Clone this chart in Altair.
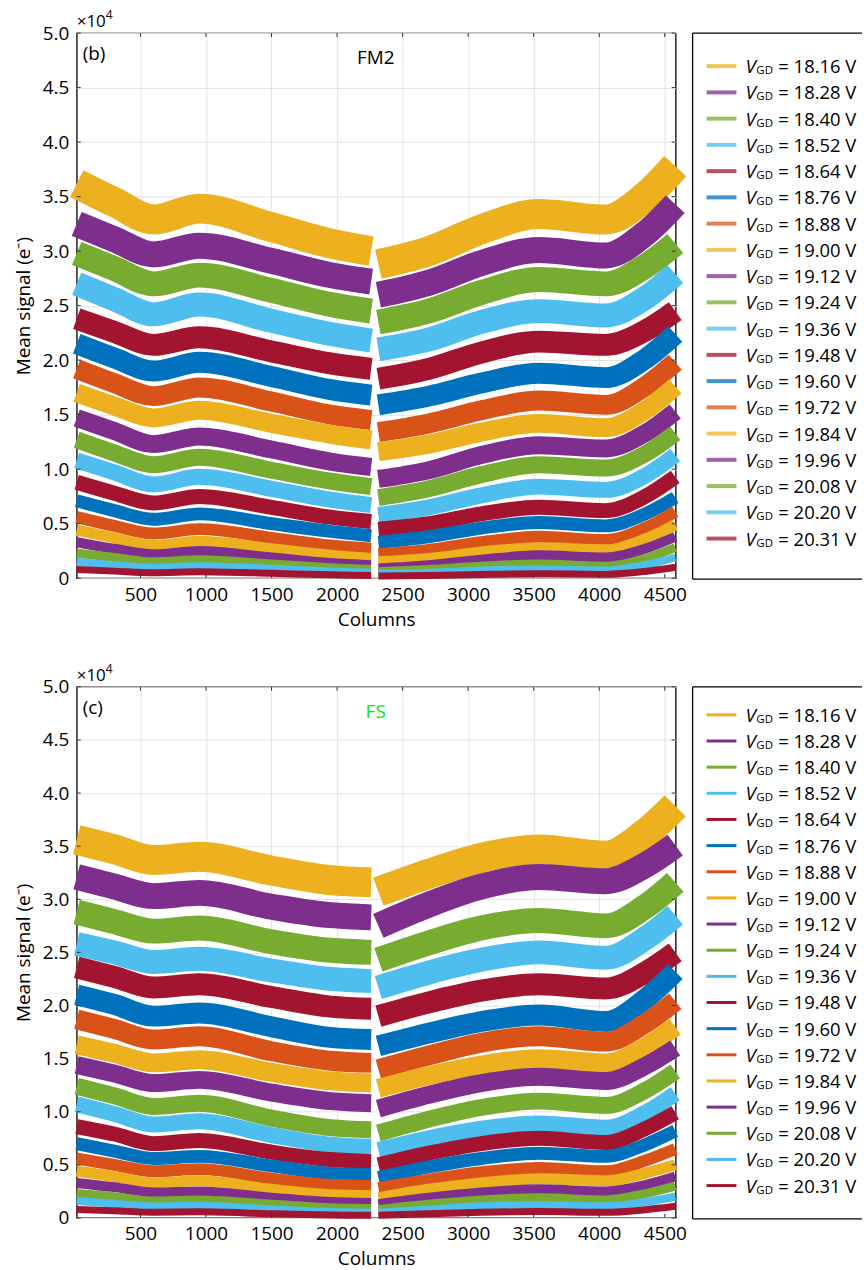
import altair as alt
import pandas as pd

# ---------------- data (signal in units of 10^4 e-) ----------------
vgd_values = ["18.16", "18.28", "18.40", "18.52", "18.64", "18.76", "18.88",
              "19.00", "19.12", "19.24", "19.36", "19.48", "19.60", "19.72",
              "19.84", "19.96", "20.08", "20.20", "20.31"]

x_ticks = [500, 1000, 1500, 2000, 2500, 3000, 3500, 4000, 4500]
y_ticks = [0, 0.5, 1.0, 1.5, 2.0, 2.5, 3.0, 3.5, 4.0, 4.5, 5.0]

# panel (b) FM2  (columns; gap between 2260 and 2315)
fm2_columns = [14, 300, 600, 950, 1500, 1950, 2260, 2315, 2700, 3100, 3540, 4050, 4350, 4580]
fm2_1816 = [3.62, 3.45, 3.29, 3.39, 3.22, 3.07, 3.00, 2.88, 3.00, 3.20, 3.34, 3.29, 3.50, 3.78]
fm2_1828 = [3.25, 3.11, 2.97, 3.05, 2.91, 2.78, 2.72, 2.60, 2.71, 2.89, 3.01, 2.96, 3.16, 3.43]
fm2_1840 = [2.98, 2.84, 2.70, 2.78, 2.64, 2.51, 2.45, 2.35, 2.45, 2.62, 2.74, 2.70, 2.86, 3.07]
fm2_1852 = [2.70, 2.56, 2.42, 2.51, 2.36, 2.24, 2.18, 2.10, 2.19, 2.35, 2.45, 2.41, 2.57, 2.79]
fm2_1864 = [2.38, 2.26, 2.14, 2.21, 2.08, 1.97, 1.92, 1.83, 1.92, 2.07, 2.17, 2.14, 2.27, 2.45]
fm2_1876 = [2.15, 2.02, 1.90, 1.98, 1.85, 1.73, 1.68, 1.59, 1.67, 1.79, 1.88, 1.84, 2.01, 2.24]
fm2_1888 = [1.92, 1.79, 1.67, 1.75, 1.62, 1.50, 1.45, 1.34, 1.42, 1.54, 1.63, 1.59, 1.76, 1.98]
fm2_1900 = [1.70, 1.58, 1.47, 1.54, 1.42, 1.32, 1.27, 1.16, 1.23, 1.34, 1.42, 1.38, 1.54, 1.76]
fm2_1912 = [1.47, 1.35, 1.23, 1.30, 1.18, 1.07, 1.02, 0.91, 0.99, 1.13, 1.22, 1.19, 1.33, 1.53]
fm2_1924 = [1.27, 1.15, 1.04, 1.11, 0.99, 0.89, 0.84, 0.74, 0.82, 0.95, 1.04, 1.01, 1.14, 1.33]
fm2_1936 = [1.08, 0.97, 0.86, 0.93, 0.82, 0.72, 0.67, 0.58, 0.65, 0.76, 0.84, 0.81, 0.94, 1.13]
fm2_1948 = [0.88, 0.78, 0.69, 0.75, 0.65, 0.56, 0.52, 0.45, 0.50, 0.59, 0.65, 0.62, 0.75, 0.93]
fm2_1960 = [0.71, 0.62, 0.54, 0.59, 0.50, 0.43, 0.39, 0.33, 0.38, 0.46, 0.51, 0.48, 0.59, 0.74]
fm2_1972 = [0.56, 0.48, 0.41, 0.45, 0.37, 0.30, 0.27, 0.22, 0.26, 0.33, 0.38, 0.35, 0.46, 0.61]
fm2_1984 = [0.44, 0.37, 0.30, 0.34, 0.27, 0.21, 0.18, 0.15, 0.18, 0.24, 0.28, 0.26, 0.36, 0.49]
fm2_1996 = [0.33, 0.27, 0.22, 0.25, 0.19, 0.14, 0.12, 0.09, 0.12, 0.17, 0.21, 0.19, 0.27, 0.38]
fm2_2008 = [0.23, 0.19, 0.15, 0.17, 0.13, 0.097, 0.08, 0.06, 0.08, 0.11, 0.13, 0.11, 0.18, 0.28]
fm2_2020 = [0.15, 0.12, 0.097, 0.11, 0.086, 0.061, 0.05, 0.04, 0.05, 0.07, 0.08, 0.07, 0.12, 0.19]
fm2_2031 = [0.08, 0.065, 0.051, 0.06, 0.045, 0.031, 0.025, 0.02, 0.025, 0.034, 0.04, 0.035, 0.062, 0.10]

# panel (c) FS
fs_columns = [14, 300, 600, 950, 1500, 1950, 2260, 2315, 2700, 3100, 3540, 4050, 4350, 4580]
fs_1816 = [3.56, 3.47, 3.37, 3.40, 3.27, 3.18, 3.16, 3.07, 3.24, 3.39, 3.47, 3.41, 3.62, 3.88]
fs_1828 = [3.21, 3.12, 3.03, 3.06, 2.93, 2.85, 2.83, 2.75, 2.95, 3.12, 3.21, 3.17, 3.32, 3.51]
fs_1840 = [2.88, 2.79, 2.70, 2.73, 2.60, 2.52, 2.50, 2.43, 2.59, 2.73, 2.80, 2.75, 2.93, 3.16]
fs_1852 = [2.58, 2.50, 2.41, 2.44, 2.33, 2.25, 2.23, 2.17, 2.31, 2.43, 2.50, 2.45, 2.63, 2.85]
fs_1864 = [2.36, 2.27, 2.17, 2.20, 2.08, 1.99, 1.97, 1.90, 2.03, 2.14, 2.20, 2.16, 2.31, 2.50]
fs_1876 = [2.10, 2.01, 1.90, 1.93, 1.80, 1.70, 1.68, 1.62, 1.74, 1.85, 1.91, 1.85, 2.06, 2.32]
fs_1888 = [1.87, 1.78, 1.68, 1.71, 1.57, 1.48, 1.46, 1.40, 1.53, 1.65, 1.71, 1.66, 1.83, 2.04]
fs_1900 = [1.63, 1.55, 1.46, 1.49, 1.37, 1.29, 1.27, 1.22, 1.34, 1.44, 1.50, 1.46, 1.61, 1.80]
fs_1912 = [1.44, 1.36, 1.27, 1.30, 1.18, 1.10, 1.08, 1.03, 1.16, 1.27, 1.33, 1.29, 1.43, 1.60]
fs_1924 = [1.24, 1.15, 1.05, 1.08, 0.94, 0.85, 0.83, 0.80, 0.93, 1.04, 1.10, 1.06, 1.20, 1.38]
fs_1936 = [1.07, 0.98, 0.88, 0.91, 0.78, 0.69, 0.67, 0.64, 0.75, 0.84, 0.89, 0.85, 0.99, 1.17]
fs_1948 = [0.86, 0.79, 0.70, 0.73, 0.62, 0.55, 0.53, 0.50, 0.61, 0.70, 0.75, 0.71, 0.84, 0.99]
fs_1960 = [0.70, 0.63, 0.56, 0.58, 0.49, 0.42, 0.41, 0.38, 0.48, 0.56, 0.61, 0.58, 0.69, 0.82]
fs_1972 = [0.56, 0.50, 0.44, 0.46, 0.37, 0.31, 0.30, 0.28, 0.36, 0.43, 0.47, 0.44, 0.54, 0.65]
fs_1984 = [0.44, 0.39, 0.33, 0.35, 0.27, 0.22, 0.21, 0.19, 0.27, 0.33, 0.37, 0.35, 0.42, 0.50]
fs_1996 = [0.33, 0.29, 0.24, 0.25, 0.19, 0.15, 0.14, 0.13, 0.19, 0.24, 0.27, 0.25, 0.31, 0.39]
fs_2008 = [0.23, 0.20, 0.16, 0.17, 0.13, 0.097, 0.09, 0.08, 0.13, 0.17, 0.19, 0.17, 0.23, 0.30]
fs_2020 = [0.16, 0.135, 0.108, 0.116, 0.08, 0.056, 0.05, 0.05, 0.08, 0.11, 0.12, 0.11, 0.15, 0.20]
fs_2031 = [0.08, 0.068, 0.054, 0.058, 0.04, 0.028, 0.025, 0.025, 0.04, 0.053, 0.06, 0.053, 0.078, 0.11]

gap_column = 2290  # readout gap between the two halves

fm2_series = [fm2_1816, fm2_1828, fm2_1840, fm2_1852, fm2_1864, fm2_1876, fm2_1888,
              fm2_1900, fm2_1912, fm2_1924, fm2_1936, fm2_1948, fm2_1960, fm2_1972,
              fm2_1984, fm2_1996, fm2_2008, fm2_2020, fm2_2031]
fs_series = [fs_1816, fs_1828, fs_1840, fs_1852, fs_1864, fs_1876, fs_1888,
             fs_1900, fs_1912, fs_1924, fs_1936, fs_1948, fs_1960, fs_1972,
             fs_1984, fs_1996, fs_2008, fs_2020, fs_2031]

# ---------------- styles ----------------
matlab = ["#EDB120", "#7E2F8E", "#77AC30", "#4DBEEE", "#A2142F", "#0072BD", "#D95319"]
colors = [matlab[i % 7] for i in range(len(vgd_values))]
band_widths = [30, 26, 25, 24, 22, 21, 20, 19, 18, 17, 16, 15, 13, 12, 11, 10, 9, 8, 7]
FONT = "Open Sans"
PLOT_W = 601
TICK_LEN = 4


def build_df(columns, series):
    rows = []
    for k, (v, vals) in enumerate(zip(vgd_values, series)):
        for c, s in zip(columns, vals):
            rows.append({"vgd": v, "col": c, "signal": s, "bw": band_widths[k],
                         "seg": "L" if c < gap_column else "R"})
    return pd.DataFrame(rows)


color_scale = alt.Scale(domain=vgd_values, range=colors)

x_axis = alt.Axis(values=x_ticks, format="d", title="Columns", grid=True,
                  gridColor="#e3e3e3", ticks=False, domain=False,
                  labelFont=FONT, labelFontSize=19, labelColor="black",
                  labelPadding=7, titleFont=FONT, titleFontSize=19,
                  titleFontWeight="normal", titleColor="black", titlePadding=6)
y_axis = alt.Axis(values=y_ticks, title="Mean signal (e⁻)", grid=True,
                  gridColor="#e3e3e3", ticks=False, domain=False,
                  labelExpr="datum.value == 0 ? '0' : format(datum.value, '.1f')",
                  labelFont=FONT, labelFontSize=19, labelColor="black",
                  labelPadding=8, titleFont=FONT, titleFontSize=19,
                  titleFontWeight="normal", titleColor="black", titlePadding=9)


def make_plot(df, height, tag, name, name_color):
    xs = alt.Scale(domain=[14, 4583], nice=False, zero=False)
    ys = alt.Scale(domain=[0, 5], nice=False, zero=False)
    lines = alt.Chart(df).mark_line(strokeCap="butt", strokeJoin="round",
                                    interpolate="monotone").encode(
        x=alt.X("col:Q", scale=xs, axis=x_axis),
        y=alt.Y("signal:Q", scale=ys, axis=y_axis),
        color=alt.Color("vgd:N", scale=color_scale, legend=None),
        strokeWidth=alt.StrokeWidth("bw:Q", scale=None, legend=None),
        detail="seg:N",
    )
    # inward tick marks on the four sides of the box
    xt = pd.DataFrame({"col": x_ticks})
    yt = pd.DataFrame({"signal": y_ticks})
    tick_style = dict(color="#333333", strokeWidth=1)
    xb = alt.Chart(xt).mark_rule(**tick_style).encode(
        x=alt.X("col:Q", scale=xs, axis=x_axis), y=alt.value(height),
        y2=alt.value(height - TICK_LEN))
    xtop = alt.Chart(xt).mark_rule(**tick_style).encode(
        x=alt.X("col:Q", scale=xs, axis=x_axis), y=alt.value(0), y2=alt.value(TICK_LEN))
    yl = alt.Chart(yt).mark_rule(**tick_style).encode(
        y=alt.Y("signal:Q", scale=ys, axis=y_axis), x=alt.value(0), x2=alt.value(TICK_LEN))
    yr = alt.Chart(yt).mark_rule(**tick_style).encode(
        y=alt.Y("signal:Q", scale=ys, axis=y_axis), x=alt.value(PLOT_W),
        x2=alt.value(PLOT_W - TICK_LEN))

    one = pd.DataFrame({"k": [0]})
    times = alt.Chart(one).mark_text(text="×10", font=FONT, fontSize=17, align="left",
                                     baseline="alphabetic", color="black").encode(
        x=alt.value(0), y=alt.value(-6))
    sup = alt.Chart(one).mark_text(text="4", font=FONT, fontSize=12, align="left",
                                   baseline="alphabetic", color="black").encode(
        x=alt.value(29), y=alt.value(-14))
    tag_t = alt.Chart(one).mark_text(text=tag, font=FONT, fontSize=19, align="left",
                                     baseline="alphabetic", color="black").encode(
        x=alt.value(6), y=alt.value(27))
    name_t = alt.Chart(one).mark_text(text=name, font=FONT, fontSize=19, align="center",
                                      baseline="alphabetic", color=name_color).encode(
        x=alt.value(300), y=alt.value(31))
    return alt.layer(lines, xb, xtop, yl, yr, times, sup, tag_t, name_t).properties(
        width=PLOT_W, height=height)


def make_legend(height, first, step, swatch_w, swatch_op):
    ldf = pd.DataFrame({"vgd": vgd_values, "rest": ["= " + v + " V" for v in vgd_values]})
    yenc = alt.Y("vgd:N", scale=alt.Scale(type="point", domain=vgd_values,
                                          range=[first, first + step * (len(vgd_values) - 1)]),
                 axis=None)
    base = alt.Chart(ldf)
    sw = base.mark_rule(strokeWidth=swatch_w, opacity=swatch_op).encode(
        x=alt.value(14), x2=alt.value(44), y=yenc,
        color=alt.Color("vgd:N", scale=color_scale, legend=None))
    v = base.mark_text(text="V", font=FONT, fontSize=19, fontStyle="italic", align="left",
                       baseline="alphabetic", dy=7, color="black").encode(x=alt.value(53), y=yenc)
    gd = base.mark_text(text="GD", font=FONT, fontSize=11.5, align="left",
                        baseline="alphabetic", dy=8, color="black").encode(x=alt.value(64), y=yenc)
    rest = base.mark_text(font=FONT, fontSize=18.5, align="left", baseline="alphabetic",
                          dy=7, color="black").encode(x=alt.value(86), y=yenc, text="rest:N")
    one = pd.DataFrame({"k": [0]})
    top = alt.Chart(one).mark_rule(color="black", strokeWidth=1.3).encode(
        x=alt.value(0), x2=alt.value(170), y=alt.value(0))
    bottom = alt.Chart(one).mark_rule(color="black", strokeWidth=1.3).encode(
        x=alt.value(0), x2=alt.value(170), y=alt.value(height))
    left = alt.Chart(one).mark_rule(color="black", strokeWidth=1.3).encode(
        x=alt.value(0), y=alt.value(0), y2=alt.value(height))
    return alt.layer(sw, v, gd, rest, top, bottom, left).properties(
        width=170, height=height, view=alt.ViewBackground(stroke="transparent"))


plot_b = make_plot(build_df(fm2_columns, fm2_series), 547, "(b)", "FM2", "black")
plot_c = make_plot(build_df(fs_columns, fs_series), 533, "(c)", "FS", "#00ee00")
leg_b = make_legend(548, 20, 27.8, 4, 0.75)
leg_c = make_legend(534, 15, 27.7, 3, 1.0)

chart = alt.concat(plot_b, leg_b, plot_c, leg_c, columns=2,
                   spacing={"row": 108, "column": 17}, bounds="flush").properties(
    padding={"left": 13, "top": 6, "right": 0, "bottom": 0},
    background="white",
).configure_view(stroke="black", strokeWidth=1.3)

chart.save("out.html", embed_options={"renderer": "svg", "actions": False})
